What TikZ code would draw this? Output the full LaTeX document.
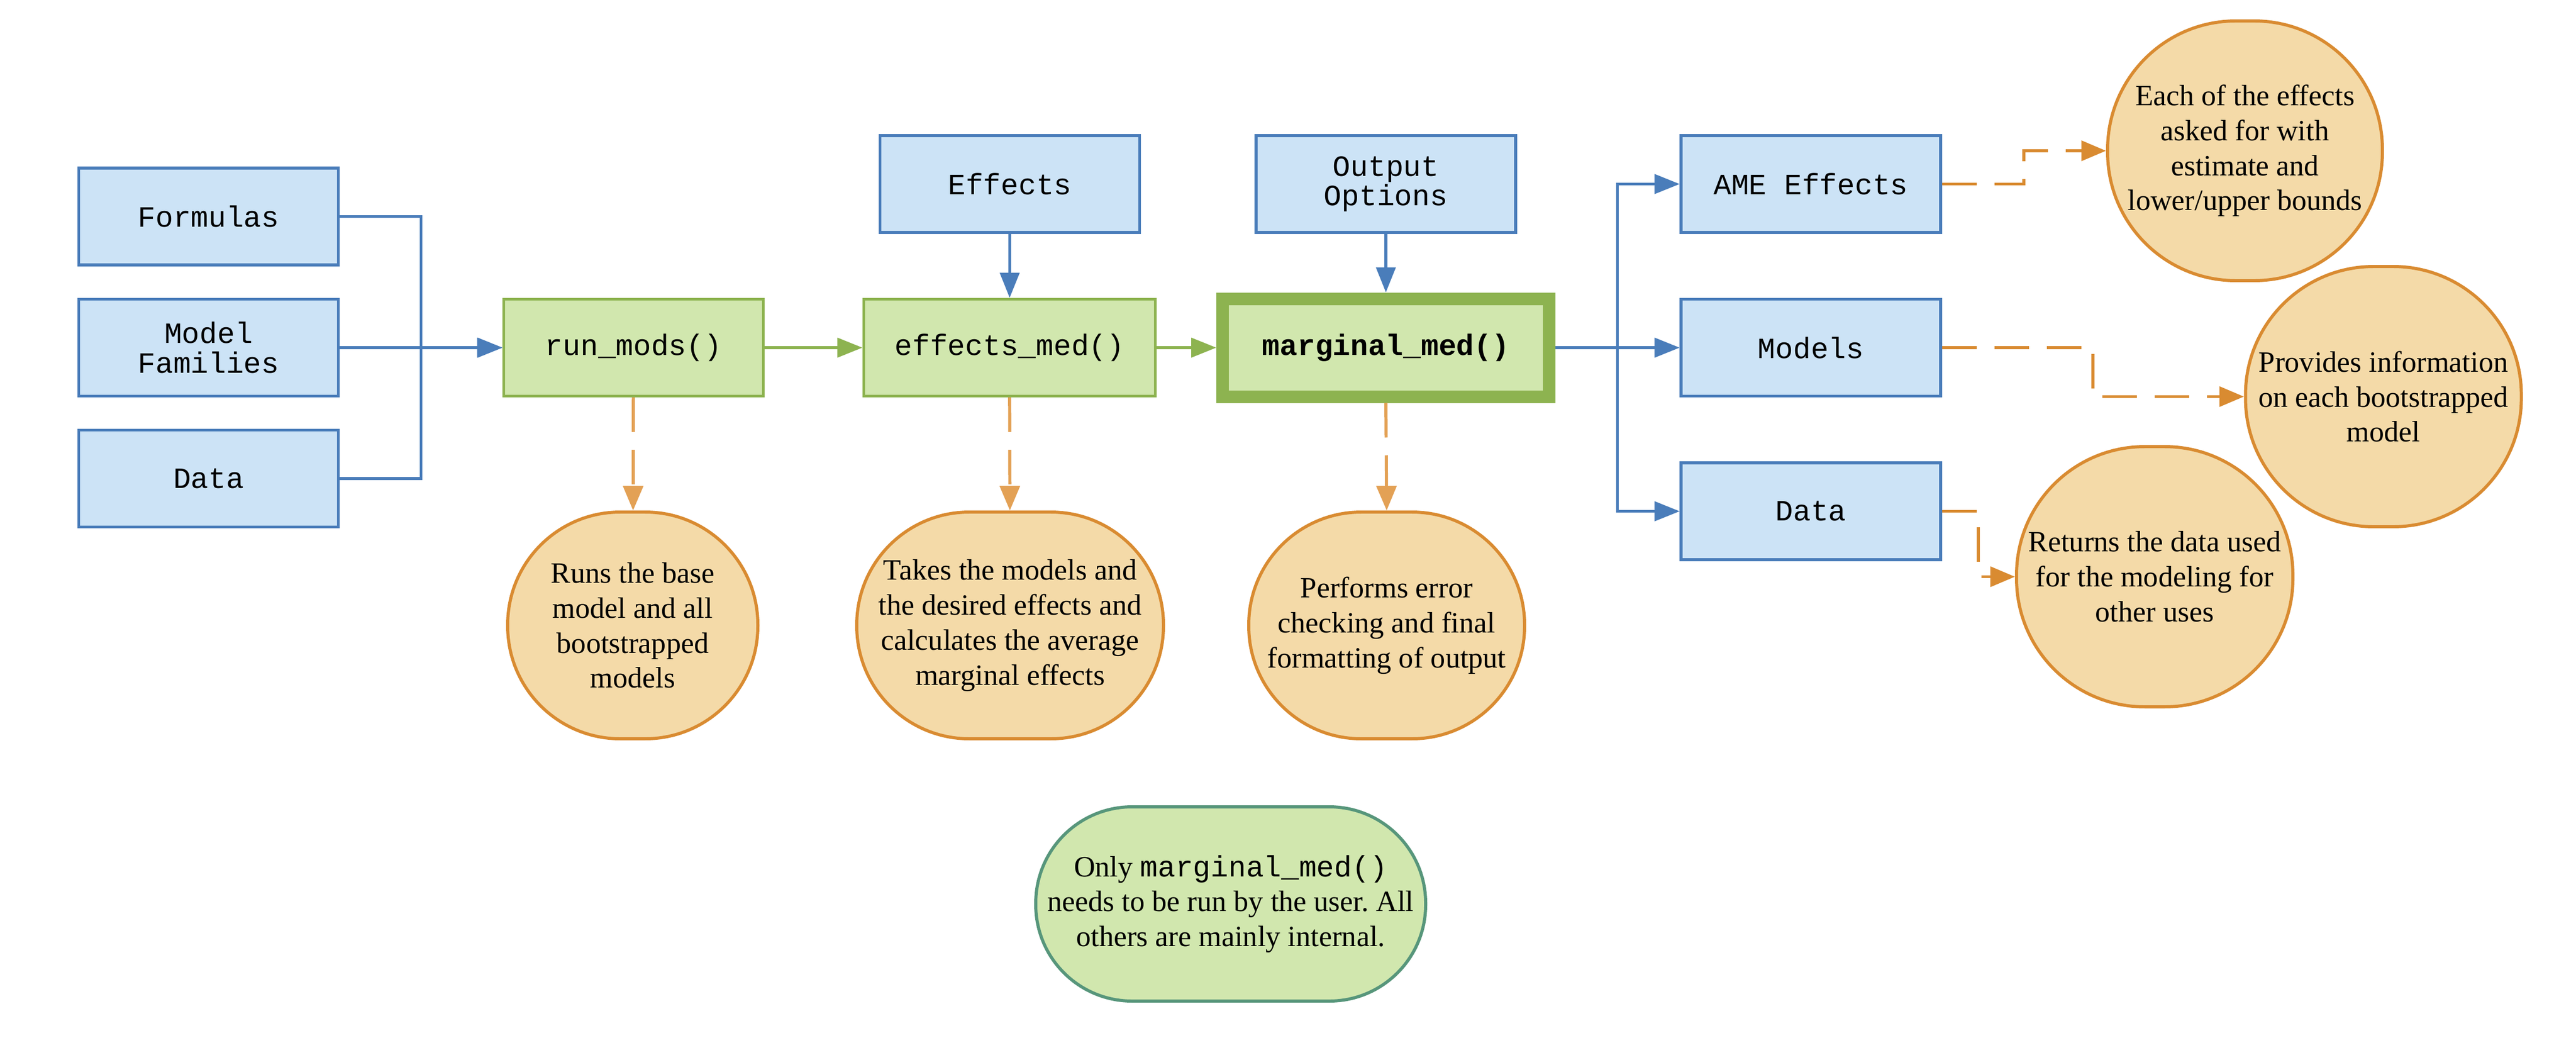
\documentclass[tikz,border=0pt]{standalone}
\usepackage{fontspec}
\setmainfont{Liberation Serif}
\setmonofont{Liberation Mono}
\usetikzlibrary{arrows.meta,calc}
\frenchspacing

\definecolor{bluefill}{HTML}{CCE3F6}
\definecolor{bluedraw}{HTML}{4A7DBA}
\definecolor{greenfill}{HTML}{D1E7AE}
\definecolor{greendraw}{HTML}{8DB350}
\definecolor{orangefill}{HTML}{F4DAA8}
\definecolor{orangedraw}{HTML}{D98B31}
\definecolor{orangefaint}{HTML}{E3A155}
\definecolor{tealdraw}{HTML}{57967B}

\begin{document}
\begin{tikzpicture}[
  font=\fontsize{16}{19}\selectfont,
  inbox/.style={rectangle,draw=bluedraw,fill=bluefill,line width=1.5pt,minimum width=4.96cm,minimum height=1.85cm,inner sep=0pt,align=center,font=\ttfamily\fontsize{16}{16.2}\selectfont},
  fnbox/.style={inbox,draw=greendraw,fill=greenfill},
  note/.style={rectangle,draw=orangedraw,fill=orangefill,line width=1.7pt,inner sep=0pt,align=center},
  flow/.style={draw=bluedraw,line width=1.5pt,-{Triangle[length=4.8mm,width=3.7mm]}},
  gflow/.style={flow,draw=greendraw},
  dflow/.style={draw=orangedraw,line width=1.7pt,dash pattern=on 0.66cm off 0.34cm,-{Triangle[length=4.7mm,width=3.8mm]}}
]
\useasboundingbox (0,0) rectangle (49.22,-20.15);

\node[inbox](form) at (3.985,-4.135) {Formulas};
\node[inbox](fam) at (3.985,-6.64) {Model\\Families};
\node[inbox](data) at (3.985,-9.14) {Data};

\node[fnbox](run) at (12.105,-6.64) {run\_mods()};
\node[fnbox,minimum width=5.57cm](effmed) at (19.29,-6.64) {effects\_med()};
\node[fnbox,line width=0.24cm,minimum width=6.24cm,minimum height=1.87cm,font=\ttfamily\bfseries\fontsize{16}{16.2}\selectfont](marg) at (26.48,-6.64) {marginal\_med()};

\node[inbox](eff) at (19.295,-3.515) {Effects};
\node[inbox](opts) at (26.48,-3.515) {Output\\Options};

\node[inbox](ame) at (34.60,-3.515) {AME Effects};
\node[inbox](models) at (34.60,-6.64) {Models};
\node[inbox](dataout) at (34.60,-9.765) {Data};

\node[note,minimum width=4.78cm,minimum height=4.33cm,rounded corners=2.15cm](nrun) at (12.09,-11.945) {Runs the base\\model and all\\bootstrapped\\models};
\node[note,minimum width=5.86cm,minimum height=4.33cm,rounded corners=2.15cm](neff) at (19.30,-11.945) {Takes the models and\\the desired effects and\\calculates the average\\marginal effects};
\node[note,minimum width=5.27cm,minimum height=4.33cm,rounded corners=2.15cm](nmarg) at (26.495,-11.945) {Performs error\\checking and final\\formatting of output};

\node[note,draw=tealdraw,fill=greenfill,minimum width=7.45cm,minimum height=3.71cm,rounded corners=1.84cm](nuser) at (23.515,-17.265) {Only \texttt{marginal\_med()}\\needs to be run by the user. All\\others are mainly internal.};

\node[note,minimum width=5.25cm,minimum height=4.96cm,rounded corners=2.45cm](name) at (42.895,-2.88) {Each of the effects\\asked for with\\estimate and\\lower/upper bounds};
\node[note,minimum width=5.27cm,minimum height=4.97cm,rounded corners=2.45cm](nmodels) at (45.54,-7.575) {Provides information\\on each bootstrapped\\model};
\node[note,minimum width=5.28cm,minimum height=4.97cm,rounded corners=2.45cm](ndata) at (41.17,-11.015) {Returns the data used\\for the modeling for\\other uses};

\draw[flow] (form.east) -| ($(form.east)!0.5!(run.west)$) |- (run.west);
\draw[flow] (fam) -- (run);
\draw[flow] (data.east) -| ($(data.east)!0.5!(run.west)$) |- (run.west);

\draw[gflow] (run) -- (effmed);
\draw[gflow] (effmed) -- (marg);

\draw[flow] (eff) -- (effmed);
\draw[flow] (opts) -- (marg);

\draw[flow] (marg.east) -| ($(marg.east)!0.5!(ame.west)$) |- (ame.west);
\draw[flow] (marg) -- (models);
\draw[flow] (marg.east) -| ($(marg.east)!0.5!(dataout.west)$) |- (dataout.west);

\draw[dflow,draw=orangefaint] (run) -- (nrun);
\draw[dflow,draw=orangefaint] (effmed) -- (neff);
\draw[dflow,draw=orangefaint] (marg.south) -- (nmarg.north);

\draw[dflow] (ame.east) -| ($(ame.east)!0.5!(name.west)$) |- (name.west);
\draw[dflow] (models.east) -| ($(models.east)!0.5!(nmodels.west)$) |- (nmodels.west);
\draw[dflow] (dataout.east) -| ($(dataout.east)!0.5!(ndata.west)$) |- (ndata.west);

\end{tikzpicture}
\end{document}
